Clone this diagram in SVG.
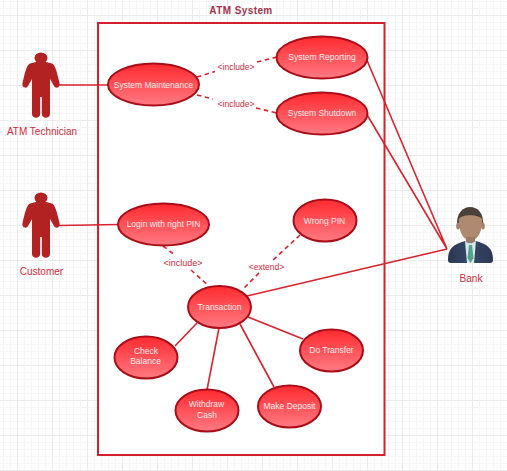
<svg xmlns="http://www.w3.org/2000/svg" width="507" height="471" viewBox="0 0 507 471">
<style>
.u{stroke:#a80d18;stroke-width:2;fill:url(#g)}
.ut{font:8.5px "Liberation Sans",Arial,sans-serif;fill:#ffe9ea;text-anchor:middle}
.lb{font:8.5px "Liberation Sans",Arial,sans-serif;fill:#d42a3c;text-anchor:middle}
.al{font:10px "Liberation Sans",Arial,sans-serif;fill:#d42a3c;text-anchor:middle}
.c{stroke:#d8242f;stroke-width:1.6;fill:none}
.d{stroke-dasharray:4.500 3.500}
.a{fill:#b22222}
</style>
<defs>
<linearGradient id="g" x1="0" y1="0" x2="0" y2="1"><stop offset="0" stop-color="#ff2a2f"/><stop offset="1" stop-color="#ff7a82"/></linearGradient>
<linearGradient id="suit" x1="0" y1="0" x2="1" y2="0"><stop offset="0" stop-color="#2c3650"/><stop offset=".5" stop-color="#37496b"/><stop offset="1" stop-color="#2c3650"/></linearGradient>
<pattern id="grid" x="17" y="15" width="35" height="35" patternUnits="userSpaceOnUse">
<path d="M0 7.500H35M0 14.500H35M0 21.500H35M0 28.500H35M7.500 0V35M14.500 0V35M21.500 0V35M28.500 0V35" stroke="#f6f6f6" stroke-width="1" fill="none"/>
<path d="M0 .5H35M.5 0V35" stroke="#ececec" stroke-width="1" fill="none"/>
</pattern>
<g id="man" class="a"><ellipse cx="0" cy="5" rx="6.500" ry="5.500"/><path d="M-5 9C-2 8 2 8 5 9L11 10.500C14 12 15.500 17 18.500 30C19.500 35 14.500 36 13 33L9 26V61C9 66 1 66 .8 61V44H-.8V61C-1 66 -9 66 -9 61V26L-13 33C-14.500 36 -19.500 35 -18.500 30C-15.500 17 -14 12 -11 10.500Z"/></g>
</defs>
<rect width="507" height="471" fill="#fff"/>
<rect width="507" height="471" fill="url(#grid)"/>
<g id="system"><rect x="98" y="23" width="286.500" height="432" fill="#fff" stroke="#d4202e" stroke-width="2"/><text x="241" y="14" font-family="Liberation Sans" font-size="10" font-weight="bold" fill="#a8324a" text-anchor="middle" letter-spacing=".4">ATM System</text></g>
<g id="connectors">
<path class="c" d="M59 85H110M59 225.500L119 224.500M366 58L447 249M366 113L447 249M247 296L447 249M175 346L197 323M207 390L219 328M274 387L240 324M303 339L248 317"/>
<path class="c d" d="M197 77L215 71.500M257 62L277 57M197 95L213 99M256 108L277 113M163 246L175 255M191 270L209 286M300 235L273 260M259 273L243 289"/>
<text class="lb" x="236" y="70">&lt;include&gt;</text>
<text class="lb" x="236" y="107">&lt;include&gt;</text>
<text class="lb" x="183" y="266" style="font-size:9px">&lt;include&gt;</text>
<text class="lb" x="266.500" y="270">&lt;extend&gt;</text>
</g>
<g id="atm-technician"><use href="#man" x="41" y="53"/><text class="al" x="42" y="135">ATM Technician</text></g>
<g id="customer"><use href="#man" x="41" y="193"/><text class="al" x="41.500" y="275">Customer</text></g>
<g id="bank">
<path d="M457 226C456 213 463 207 470 207C478 207 484 213 483 226L480 228H460Z" fill="#4a4238"/>
<ellipse cx="458" cy="226" rx="1.800" ry="3.500" fill="#a5806a"/><ellipse cx="483" cy="226" rx="1.800" ry="3.500" fill="#a5806a"/>
<path d="M459 219C462 214 478 214 482 219C482.500 228 480 236 475 239C472 241 469 241 466 239C461 236 458.500 228 459 219Z" fill="#b08a70"/>
<rect x="466" y="237" width="9" height="6" fill="#9c7a64"/>
<path d="M448 260C448 249 452 245 465 241L470 244L476 241C489 245 493 249 493 260C493 262 492 263 490 263H451C449 263 448 262 448 260Z" fill="url(#suit)"/>
<path d="M465 241L470 244L476 241L474 263H467Z" fill="#d8e8e8"/>
<path d="M469 245H472L473.500 258L470.500 263L467.500 258Z" fill="#4fa58a"/>
<text class="al" x="471" y="282">Bank</text>
</g>
<g id="system-maintenance"><ellipse class="u" cx="153.500" cy="84.500" rx="45.500" ry="21"/><text class="ut" x="153.500" y="88">System Maintenance</text></g>
<g id="system-reporting"><ellipse class="u" cx="322" cy="57.500" rx="45.500" ry="21"/><text class="ut" x="322" y="60">System Reporting</text></g>
<g id="system-shutdown"><ellipse class="u" cx="322" cy="113.500" rx="45.500" ry="21"/><text class="ut" x="322" y="116">System Shutdown</text></g>
<g id="login"><ellipse class="u" cx="163.500" cy="224.500" rx="45.500" ry="21"/><text class="ut" x="163.500" y="227">Login with right PIN</text></g>
<g id="wrong-pin"><ellipse class="u" cx="325" cy="220.500" rx="31.500" ry="21"/><text class="ut" x="324.500" y="224">Wrong PIN</text></g>
<g id="transaction"><ellipse class="u" cx="219.500" cy="307" rx="31.500" ry="21"/><text class="ut" x="219.500" y="310">Transaction</text></g>
<g id="check-balance"><ellipse class="u" cx="146" cy="357.500" rx="31.500" ry="21"/><text class="ut" x="146" y="354">Check</text><text class="ut" x="145.500" y="364">Balance</text></g>
<g id="withdraw-cash"><ellipse class="u" cx="207" cy="410.500" rx="31.500" ry="21"/><text class="ut" x="206.500" y="407">Withdraw</text><text class="ut" x="207" y="418">Cash</text></g>
<g id="make-deposit"><ellipse class="u" cx="289.500" cy="406.500" rx="31.500" ry="21"/><text class="ut" x="289.500" y="409">Make Deposit</text></g>
<g id="do-transfer"><ellipse class="u" cx="331.500" cy="350.500" rx="31.500" ry="21"/><text class="ut" x="331.500" y="353">Do Transfer</text></g>
</svg>
